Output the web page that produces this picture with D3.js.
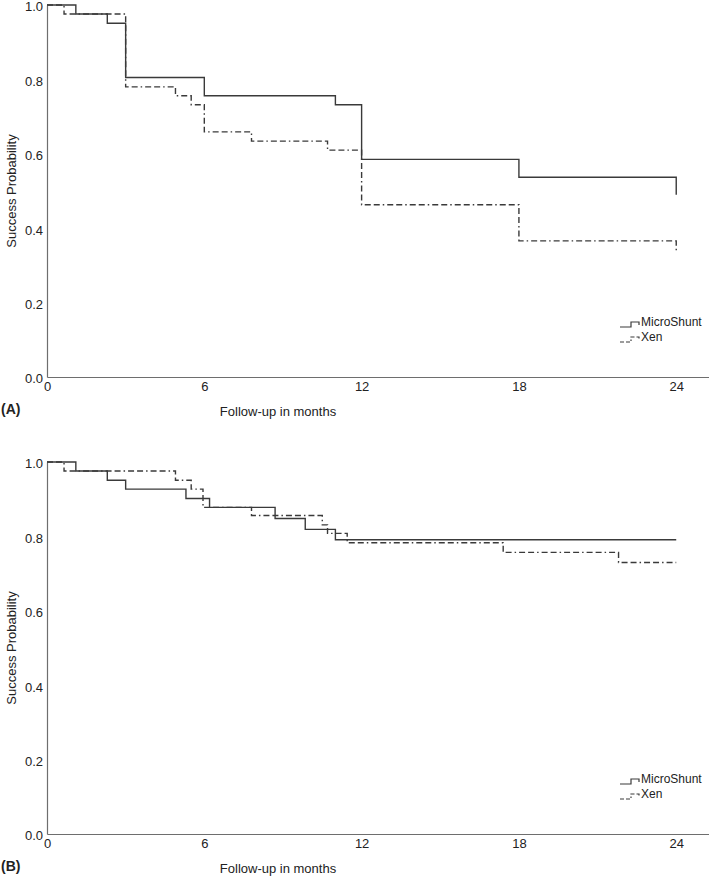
<!DOCTYPE html>
<html>
<head>
<meta charset="utf-8">
<script src="https://cdn.jsdelivr.net/npm/d3@7/dist/d3.min.js"></script>
<style>
  html, body { margin: 0; padding: 0; background: #fff; }
  svg { display: block; }
  text { font-family: "Liberation Sans", Arial, sans-serif; fill: #222; }
</style>
</head>
<body>
<svg id="chart" width="709" height="888"></svg>
<script>
// ---------- data ----------
const panels = ["(A)", "(B)"];
const seriesNames = ["MicroShunt", "Xen"];
const xTicks = [0, 6, 12, 18, 24];
const yTicks = [0.0, 0.2, 0.4, 0.6, 0.8, 1.0];
const xTitle = "Follow-up in months";
const yTitle = "Success Probability";

// Panel A
const aMicroTimes = [0, 1.1, 2.3, 3.0, 6.0, 11.0, 12.0, 18.0, 24.0];
const aMicroSurv  = [1.0, 0.976, 0.951, 0.805, 0.756, 0.732, 0.585, 0.537, 0.49];
const aXenTimes   = [0, 0.65, 3.0, 4.9, 5.5, 6.0, 7.8, 10.7, 12.0, 18.0, 24.0];
const aXenSurv    = [1.0, 0.976, 0.780, 0.756, 0.732, 0.659, 0.634, 0.610, 0.463, 0.366, 0.34];

// Panel B
const bMicroTimes = [0, 1.1, 2.3, 3.0, 5.3, 6.2, 8.7, 9.85, 11.0, 24.0];
const bMicroSurv  = [1.0, 0.976, 0.951, 0.927, 0.902, 0.878, 0.848, 0.819, 0.791, 0.791];
const bXenTimes   = [0, 0.65, 4.9, 5.5, 5.95, 7.8, 10.5, 10.7, 11.45, 17.4, 21.8, 24.0];
const bXenSurv    = [1.0, 0.976, 0.951, 0.927, 0.878, 0.856, 0.831, 0.808, 0.783, 0.757, 0.73, 0.73];

const panelData = [
  [ {t: aMicroTimes, s: aMicroSurv}, {t: aXenTimes, s: aXenSurv} ],
  [ {t: bMicroTimes, s: bMicroSurv}, {t: bXenTimes, s: bXenSurv} ]
];

// ---------- layout ----------
const svg = d3.select("#chart");
const left = 47, right = 709;
const panelTops = [5, 462];
const plotH = 372;
const lineColor = "#3a3a3a";
const axisColor = "#6e6e6e";
const dashPat = "6,3,6,3,1.5,3";
const styles = [null, dashPat];

const x = d3.scaleLinear().domain([0, 25.25]).range([left, right]);

panels.forEach((label, pi) => {
  const top = panelTops[pi];
  const bottom = top + plotH;
  const y = d3.scaleLinear().domain([0, 1]).range([bottom, top]);
  const g = svg.append("g");

  // axes
  const yAxis = g.append("g").attr("transform", `translate(${left},0)`)
    .call(d3.axisLeft(y).tickValues(yTicks).tickFormat(d3.format(".1f")).tickSize(0).tickSizeOuter(0).tickPadding(4));
  yAxis.select(".domain").attr("stroke", axisColor).attr("stroke-width", 1.2);
  yAxis.selectAll("text").attr("font-size", 13).attr("fill", "#222").attr("dy", "0.45em");

  const xAxis = g.append("g").attr("transform", `translate(0,${bottom})`)
    .call(d3.axisBottom(x).tickValues(xTicks).tickFormat(d3.format("d")).tickSize(0).tickSizeOuter(0).tickPadding(5));
  xAxis.select(".domain").attr("stroke", axisColor).attr("stroke-width", 1.2);
  xAxis.selectAll("text").attr("font-size", 13).attr("fill", "#222");

  // curves
  const line = d3.line().x(d => x(d[0])).y(d => y(d[1])).curve(d3.curveStepAfter);
  panelData[pi].forEach((ser, si) => {
    const pts = ser.t.map((t, i) => [t, ser.s[i]]);
    g.append("path").datum(pts)
      .attr("d", line)
      .attr("fill", "none")
      .attr("stroke", lineColor)
      .attr("stroke-width", 1.4)
      .attr("stroke-dasharray", styles[si]);
  });

  // axis titles
  g.append("text")
    .attr("transform", `translate(13,${(top + bottom) / 2}) rotate(-90)`)
    .attr("text-anchor", "middle").attr("dominant-baseline", "middle")
    .attr("font-size", 13)
    .text(yTitle);
  g.append("text")
    .attr("x", 278).attr("y", bottom + 36)
    .attr("text-anchor", "middle").attr("dominant-baseline", "middle")
    .attr("font-size", 13)
    .text(xTitle);
  g.append("text")
    .attr("x", 1).attr("y", bottom + 33)
    .attr("dominant-baseline", "middle")
    .attr("font-size", 14).attr("font-weight", "bold")
    .text(label);

  // legend
  const legY0 = bottom - 54;
  seriesNames.forEach((name, si) => {
    const ly = legY0 + si * 15;
    const sym = `M620,${ly + 4} H631 V${ly - 1} H639 V${ly + 2}`;
    g.append("path").attr("d", sym)
      .attr("fill", "none").attr("stroke", lineColor).attr("stroke-width", 1.2)
      .attr("stroke-dasharray", si === 1 ? "4,2,4,2,1.5,2" : null);
    g.append("text").attr("x", 641).attr("y", ly)
      .attr("dominant-baseline", "middle").attr("font-size", 12)
      .text(name);
  });
});
</script>
</body>
</html>
